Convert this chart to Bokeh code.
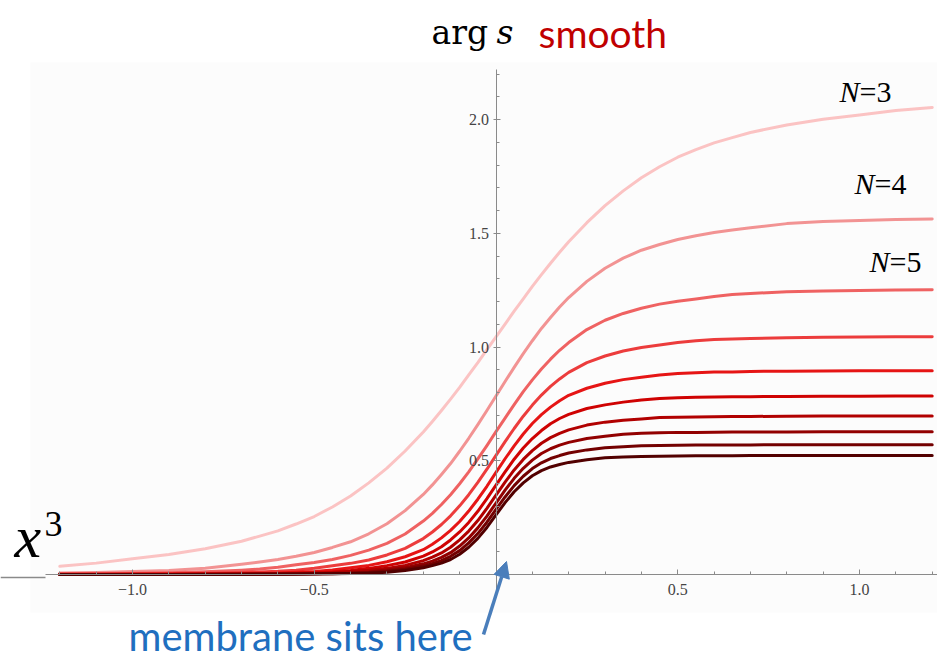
from bokeh.plotting import figure
from bokeh.models import (Range1d, FixedTicker, CustomJSTickFormatter, Label,
                          Arrow, NormalHead, BoxAnnotation)
from bokeh.embed import file_html
from bokeh.resources import INLINE

# ---------------- data ----------------
x_vals = [-1.2, -1.1, -1.0, -0.9, -0.8, -0.7, -0.65, -0.6, -0.55, -0.5, -0.45, -0.4,
          -0.35, -0.3, -0.25, -0.2, -0.175, -0.15, -0.125, -0.1, -0.075, -0.05, -0.025,
          0.0, 0.025, 0.05, 0.075, 0.1, 0.125, 0.15, 0.175, 0.2, 0.25, 0.3, 0.35, 0.4,
          0.45, 0.5, 0.55, 0.6, 0.65, 0.7, 0.8, 0.9, 1.0, 1.1, 1.2]

n_labels = ["N=3", "N=4", "N=5", "N=6", "N=7", "N=8", "N=9", "N=10", "N=11", "N=12"]

y_n3 = [0.036, 0.050, 0.069, 0.088, 0.113, 0.146, 0.169, 0.192, 0.222, 0.255, 0.297, 0.345,
        0.403, 0.468, 0.543, 0.627, 0.673, 0.721, 0.771, 0.823, 0.878, 0.932, 0.989,
        1.045, 1.101, 1.158, 1.212, 1.267, 1.319, 1.369, 1.417, 1.463, 1.547, 1.622, 1.687,
        1.745, 1.793, 1.835, 1.868, 1.898, 1.921, 1.944, 1.977, 2.002, 2.021, 2.040, 2.054]
y_n4 = [0.007, 0.009, 0.013, 0.018, 0.027, 0.045, 0.055, 0.066, 0.080, 0.097, 0.119, 0.144,
        0.179, 0.223, 0.281, 0.352, 0.394, 0.440, 0.488, 0.542, 0.599, 0.659, 0.721,
        0.785, 0.849, 0.911, 0.971, 1.028, 1.082, 1.130, 1.176, 1.218, 1.289, 1.347, 1.391,
        1.426, 1.451, 1.473, 1.490, 1.504, 1.515, 1.525, 1.543, 1.552, 1.557, 1.561, 1.563]
y_n5 = [0.003, 0.004, 0.006, 0.008, 0.012, 0.019, 0.024, 0.032, 0.043, 0.053, 0.066, 0.084,
        0.107, 0.137, 0.178, 0.235, 0.269, 0.308, 0.351, 0.399, 0.451, 0.508, 0.567,
        0.628, 0.688, 0.747, 0.804, 0.856, 0.904, 0.947, 0.986, 1.020, 1.077, 1.118, 1.148,
        1.171, 1.189, 1.202, 1.212, 1.223, 1.231, 1.236, 1.243, 1.247, 1.249, 1.251, 1.252]
y_n6 = [0.001, 0.002, 0.003, 0.004, 0.006, 0.009, 0.011, 0.014, 0.019, 0.027, 0.038, 0.049,
        0.064, 0.086, 0.115, 0.158, 0.187, 0.220, 0.258, 0.302, 0.351, 0.405, 0.463,
        0.524, 0.584, 0.642, 0.696, 0.745, 0.789, 0.827, 0.860, 0.889, 0.932, 0.961, 0.983,
        0.998, 1.009, 1.020, 1.028, 1.033, 1.036, 1.038, 1.041, 1.043, 1.044, 1.045, 1.046]
y_n7 = [0.001, 0.001, 0.001, 0.002, 0.003, 0.004, 0.006, 0.007, 0.010, 0.013, 0.020, 0.030,
        0.040, 0.056, 0.078, 0.109, 0.133, 0.161, 0.194, 0.233, 0.279, 0.331, 0.388,
        0.449, 0.509, 0.566, 0.618, 0.664, 0.703, 0.736, 0.764, 0.788, 0.819, 0.841, 0.857,
        0.867, 0.877, 0.884, 0.887, 0.890, 0.891, 0.893, 0.894, 0.895, 0.896, 0.896, 0.896]
y_n8 = [0.000, 0.000, 0.001, 0.001, 0.002, 0.003, 0.003, 0.004, 0.006, 0.008, 0.011, 0.018,
        0.027, 0.039, 0.055, 0.081, 0.099, 0.122, 0.152, 0.187, 0.229, 0.278, 0.334,
        0.393, 0.451, 0.507, 0.556, 0.598, 0.633, 0.663, 0.686, 0.704, 0.730, 0.746, 0.758,
        0.767, 0.774, 0.777, 0.779, 0.781, 0.782, 0.782, 0.783, 0.784, 0.784, 0.785, 0.785]
y_n9 = [0.000, 0.000, 0.000, 0.000, 0.001, 0.002, 0.002, 0.003, 0.004, 0.005, 0.007, 0.013,
        0.019, 0.027, 0.040, 0.061, 0.076, 0.095, 0.120, 0.152, 0.191, 0.237, 0.291,
        0.349, 0.406, 0.460, 0.506, 0.545, 0.577, 0.602, 0.621, 0.636, 0.657, 0.670, 0.678,
        0.684, 0.690, 0.692, 0.693, 0.694, 0.695, 0.695, 0.696, 0.697, 0.697, 0.697, 0.697]
y_n10 = [0.000, 0.000, 0.000, 0.000, 0.001, 0.001, 0.001, 0.002, 0.003, 0.003, 0.005, 0.007,
         0.011, 0.020, 0.030, 0.047, 0.059, 0.075, 0.096, 0.125, 0.161, 0.205, 0.257,
         0.314, 0.371, 0.423, 0.467, 0.503, 0.532, 0.553, 0.569, 0.581, 0.598, 0.608, 0.617,
         0.621, 0.623, 0.625, 0.625, 0.626, 0.627, 0.627, 0.627, 0.628, 0.628, 0.628, 0.628]
y_n11 = [0.000, 0.000, 0.000, 0.000, 0.000, 0.001, 0.001, 0.001, 0.002, 0.003, 0.003, 0.005,
         0.009, 0.014, 0.023, 0.037, 0.048, 0.061, 0.080, 0.105, 0.139, 0.180, 0.230,
         0.286, 0.341, 0.391, 0.432, 0.466, 0.491, 0.510, 0.523, 0.534, 0.548, 0.557, 0.562,
         0.566, 0.567, 0.568, 0.569, 0.570, 0.570, 0.570, 0.571, 0.571, 0.571, 0.571, 0.571]
y_n12 = [0.000, 0.000, 0.000, 0.000, 0.000, 0.000, 0.001, 0.001, 0.001, 0.002, 0.003, 0.004,
         0.006, 0.010, 0.018, 0.030, 0.039, 0.050, 0.066, 0.089, 0.120, 0.159, 0.207,
         0.262, 0.316, 0.364, 0.403, 0.434, 0.457, 0.473, 0.484, 0.493, 0.505, 0.513, 0.517,
         0.519, 0.520, 0.521, 0.522, 0.522, 0.522, 0.523, 0.523, 0.523, 0.523, 0.523, 0.523]

series = [y_n3, y_n4, y_n5, y_n6, y_n7, y_n8, y_n9, y_n10, y_n11, y_n12]
colors = ["#fbc3c3", "#f29393", "#ef6262", "#ec3c3c", "#e61515",
          "#cf0202", "#b10000", "#920000", "#730000", "#520000"]

x_major = [-1.0, -0.5, 0.5, 1.0]
x_minor = [-1.2, -1.1, -1.0, -0.9, -0.8, -0.7, -0.6, -0.5, -0.4, -0.3, -0.2, -0.1,
           0.1, 0.2, 0.3, 0.4, 0.5, 0.6, 0.7, 0.8, 0.9, 1.0, 1.1, 1.2]
y_major = [0.5, 1.0, 1.5, 2.0]
y_minor = [0.1, 0.2, 0.3, 0.4, 0.5, 0.6, 0.7, 0.8, 0.9, 1.0, 1.1, 1.2, 1.3, 1.4,
           1.5, 1.6, 1.7, 1.8, 1.9, 2.0, 2.1, 2.2]

# ---------------- geometry helpers (pixel -> data) ----------------
W, H = 937, 659
X0PX, XSCALE = 495.5, 363.5
Y0PX, YSCALE = 574.0, 227.4


def dx(px):
    return (px - X0PX) / XSCALE


def dy(py):
    return (Y0PX - py) / YSCALE


p = figure(width=W, height=H, output_backend="svg", toolbar_location=None,
           x_range=Range1d(dx(0), dx(W)), y_range=Range1d(dy(H), dy(0)),
           min_border=0)
p.outline_line_color = None
p.grid.visible = False
p.background_fill_color = "white"
p.border_fill_color = "white"

p.add_layout(BoxAnnotation(left=dx(30), right=dx(W), top=dy(62), bottom=dy(612),
                           fill_color="#fcfcfc", fill_alpha=1.0, line_color=None,
                           level="underlay"))

fmt = CustomJSTickFormatter(code="return tick.toFixed(1).replace('-', '\\u2212');")

xa = p.xaxis[0]
xa.fixed_location = 0
xa.bounds = (dx(45), dx(W))
xa.ticker = FixedTicker(ticks=x_major, minor_ticks=x_minor)
xa.formatter = fmt
xa.axis_line_color = "#8a8a8a"
xa.major_tick_line_color = "#8a8a8a"
xa.minor_tick_line_color = "#8a8a8a"
xa.major_tick_in = 5
xa.major_tick_out = 0
xa.minor_tick_in = 3
xa.minor_tick_out = 0
xa.major_label_standoff = 9
xa.major_label_text_font = "Liberation Serif"
xa.major_label_text_font_size = "16px"
xa.major_label_text_color = "#444444"

ya = p.yaxis[0]
ya.fixed_location = 0
ya.bounds = (-0.1, 2.22)
ya.ticker = FixedTicker(ticks=y_major, minor_ticks=y_minor)
ya.formatter = fmt
ya.axis_line_color = "#8a8a8a"
ya.major_tick_line_color = "#8a8a8a"
ya.minor_tick_line_color = "#8a8a8a"
ya.major_tick_in = 4
ya.major_tick_out = 3
ya.minor_tick_in = 3
ya.minor_tick_out = 0
ya.major_label_standoff = 4
ya.major_label_text_font = "Liberation Serif"
ya.major_label_text_font_size = "16px"
ya.major_label_text_color = "#444444"

for ys, c in zip(series, colors):
    p.line(x_vals, ys, line_color=c, line_width=3, line_join="round", line_cap="round")


# ---------------- annotations ----------------
def lab(px, base_py, text, size, color="black", font="Liberation Serif", style="normal",
        align="left"):
    # base_py: wanted baseline in pixels; correct for renderer's baseline offset
    py = base_py - 0.39 * size
    p.add_layout(Label(x=dx(px), y=dy(py), text=text, text_font=font,
                       text_font_size=f"{size}px", text_color=color,
                       text_font_style=style, text_align=align,
                       text_baseline="alphabetic"))


# title pieces
lab(431, 45, "arg", 33, font="DejaVu Serif")
lab(496, 45, "s", 33, font="DejaVu Serif", style="italic")
lab(538, 48, "smooth", 39, color="#c00000", font="Lato")

# N labels
for (px, py, num) in [(839, 103, "=3"), (854, 195, "=4"), (869, 273, "=5")]:
    lab(px, py, "N", 30, style="italic")
    lab(px + 20, py, num, 30)

# x^3 on the left
lab(14, 560, "x", 60, style="italic")
lab(44, 538, "3", 36)

# fragment of neighbouring axis line
p.segment(x0=[dx(0)], y0=[dy(577)], x1=[dx(45)], y1=[dy(577)],
          line_color="#8a8a8a", line_width=1.5)

# membrane annotation
lab(128, 651, "membrane sits here", 40, color="#1f6fbf", font="Lato")
p.add_layout(Arrow(x_start=dx(483), y_start=dy(634), x_end=dx(506), y_end=dy(561),
                   line_color="#4a7ebb", line_width=3.5,
                   end=NormalHead(size=16, fill_color="#4a7ebb", line_color="#4a7ebb")))

open("out.html", "w").write(file_html(p, INLINE))
